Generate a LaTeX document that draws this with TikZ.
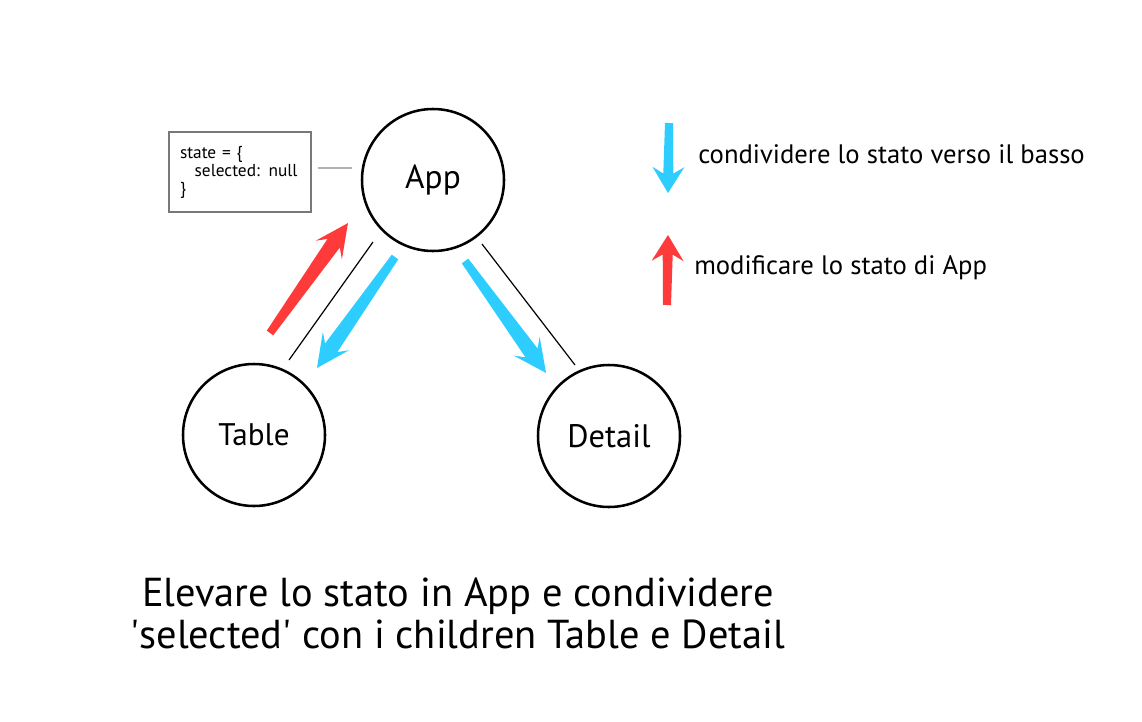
\documentclass[tikz,border=0pt]{standalone}
\usepackage{fontspec}
\setmainfont{PT Sans}
\definecolor{downblue}{RGB}{45,205,255}
\definecolor{upred}{RGB}{255,58,58}
\definecolor{boxgray}{RGB}{120,120,120}
\usetikzlibrary{calc,positioning}
% 渐宽箭头:#1 颜色, #2 尾部坐标, #3 角度, #4 长度, #5 箭头长, #6 杆半宽
\newcommand{\fatarrow}[6]{%
    \begin{scope}[shift={(#2)}, rotate=#3]
        \fill[#1] (0,-4) -- (#4-0.75*#5,-#6) -- (#4-#5,-16) -- (#4,0)
                  -- (#4-#5,16) -- (#4-0.75*#5,#6) -- (0,4) -- cycle;
    \end{scope}}

\begin{document}
\begin{tikzpicture}[x=0.75pt, y=-0.75pt,
    comp/.style={circle, draw=black, line width=1.9pt, minimum size=106.5pt, inner sep=0pt},
    statebox/.style={draw=boxgray, line width=1.5pt, minimum width=105pt, minimum height=60pt,
                     text width=90pt, align=left, inner xsep=8pt,
                     font=\fontsize{13}{13.5}\selectfont},
    legend/.style={anchor=west, inner sep=0pt, font=\fontsize{20}{24}\selectfont}]
    \useasboundingbox (0,0) rectangle (1142,721);
    % 三个组件
    \node[comp, font=\fontsize{25}{30}\selectfont] (App) at (433,180) {App};
    \node[comp, font=\fontsize{23.4}{28}\selectfont] (Table) at (254,435) {Table};
    \node[comp, font=\fontsize{24.4}{29}\selectfont] (Detail) at (609,436) {Detail};
    % App 的 state
    \node[statebox] (state) at (240,172) {state = \{\\\hspace*{11pt}selected: null\\\}};
    \draw[gray!60, line width=0.8pt] ($(state.east)+(6,-4)$) -- ($(App.west)+(-9,-12)$);
    % 父子之间的连线
    \draw[line width=0.9pt] ($(App)+(-60,62)$) -- ($(Table)+(35,-75)$);
    \draw[line width=0.9pt] ($(App)+(49,64)$) -- ($(Detail)+(-34,-71)$);
    % 状态传递箭头
    \coordinate (redTail) at (270,333);
    \coordinate (blueTailT) at (395,257);
    \coordinate (blueTailD) at (465,261);
    \fatarrow{upred}{redTail}{54.66}{134.8}{33}{7.5}
    \fatarrow{downblue}{blueTailT}{-125.1}{135.7}{33}{7.5}
    \fatarrow{downblue}{blueTailD}{-54.1}{138.2}{33}{7.5}
    % 图例
    \coordinate (legDown) at (669,123);
    \coordinate (legUp) at (667,305);
    \fatarrow{downblue}{legDown}{-90.8}{70}{26}{5}
    \fatarrow{upred}{legUp}{89.2}{70}{26}{5}
    \node[legend] (legDownText) at (698,154) {condividere lo stato verso il basso};
    \node[legend] (legUpText) at (694,268) {modificare lo stato di App};
    % 说明文字
    \node[align=center, font=\fontsize{30.3}{31.5}\selectfont] (caption) at (458,613)
        {Elevare lo stato in App e condividere\\\textquotesingle selected\textquotesingle{} con i children Table e Detail};
\end{tikzpicture}
\end{document}
